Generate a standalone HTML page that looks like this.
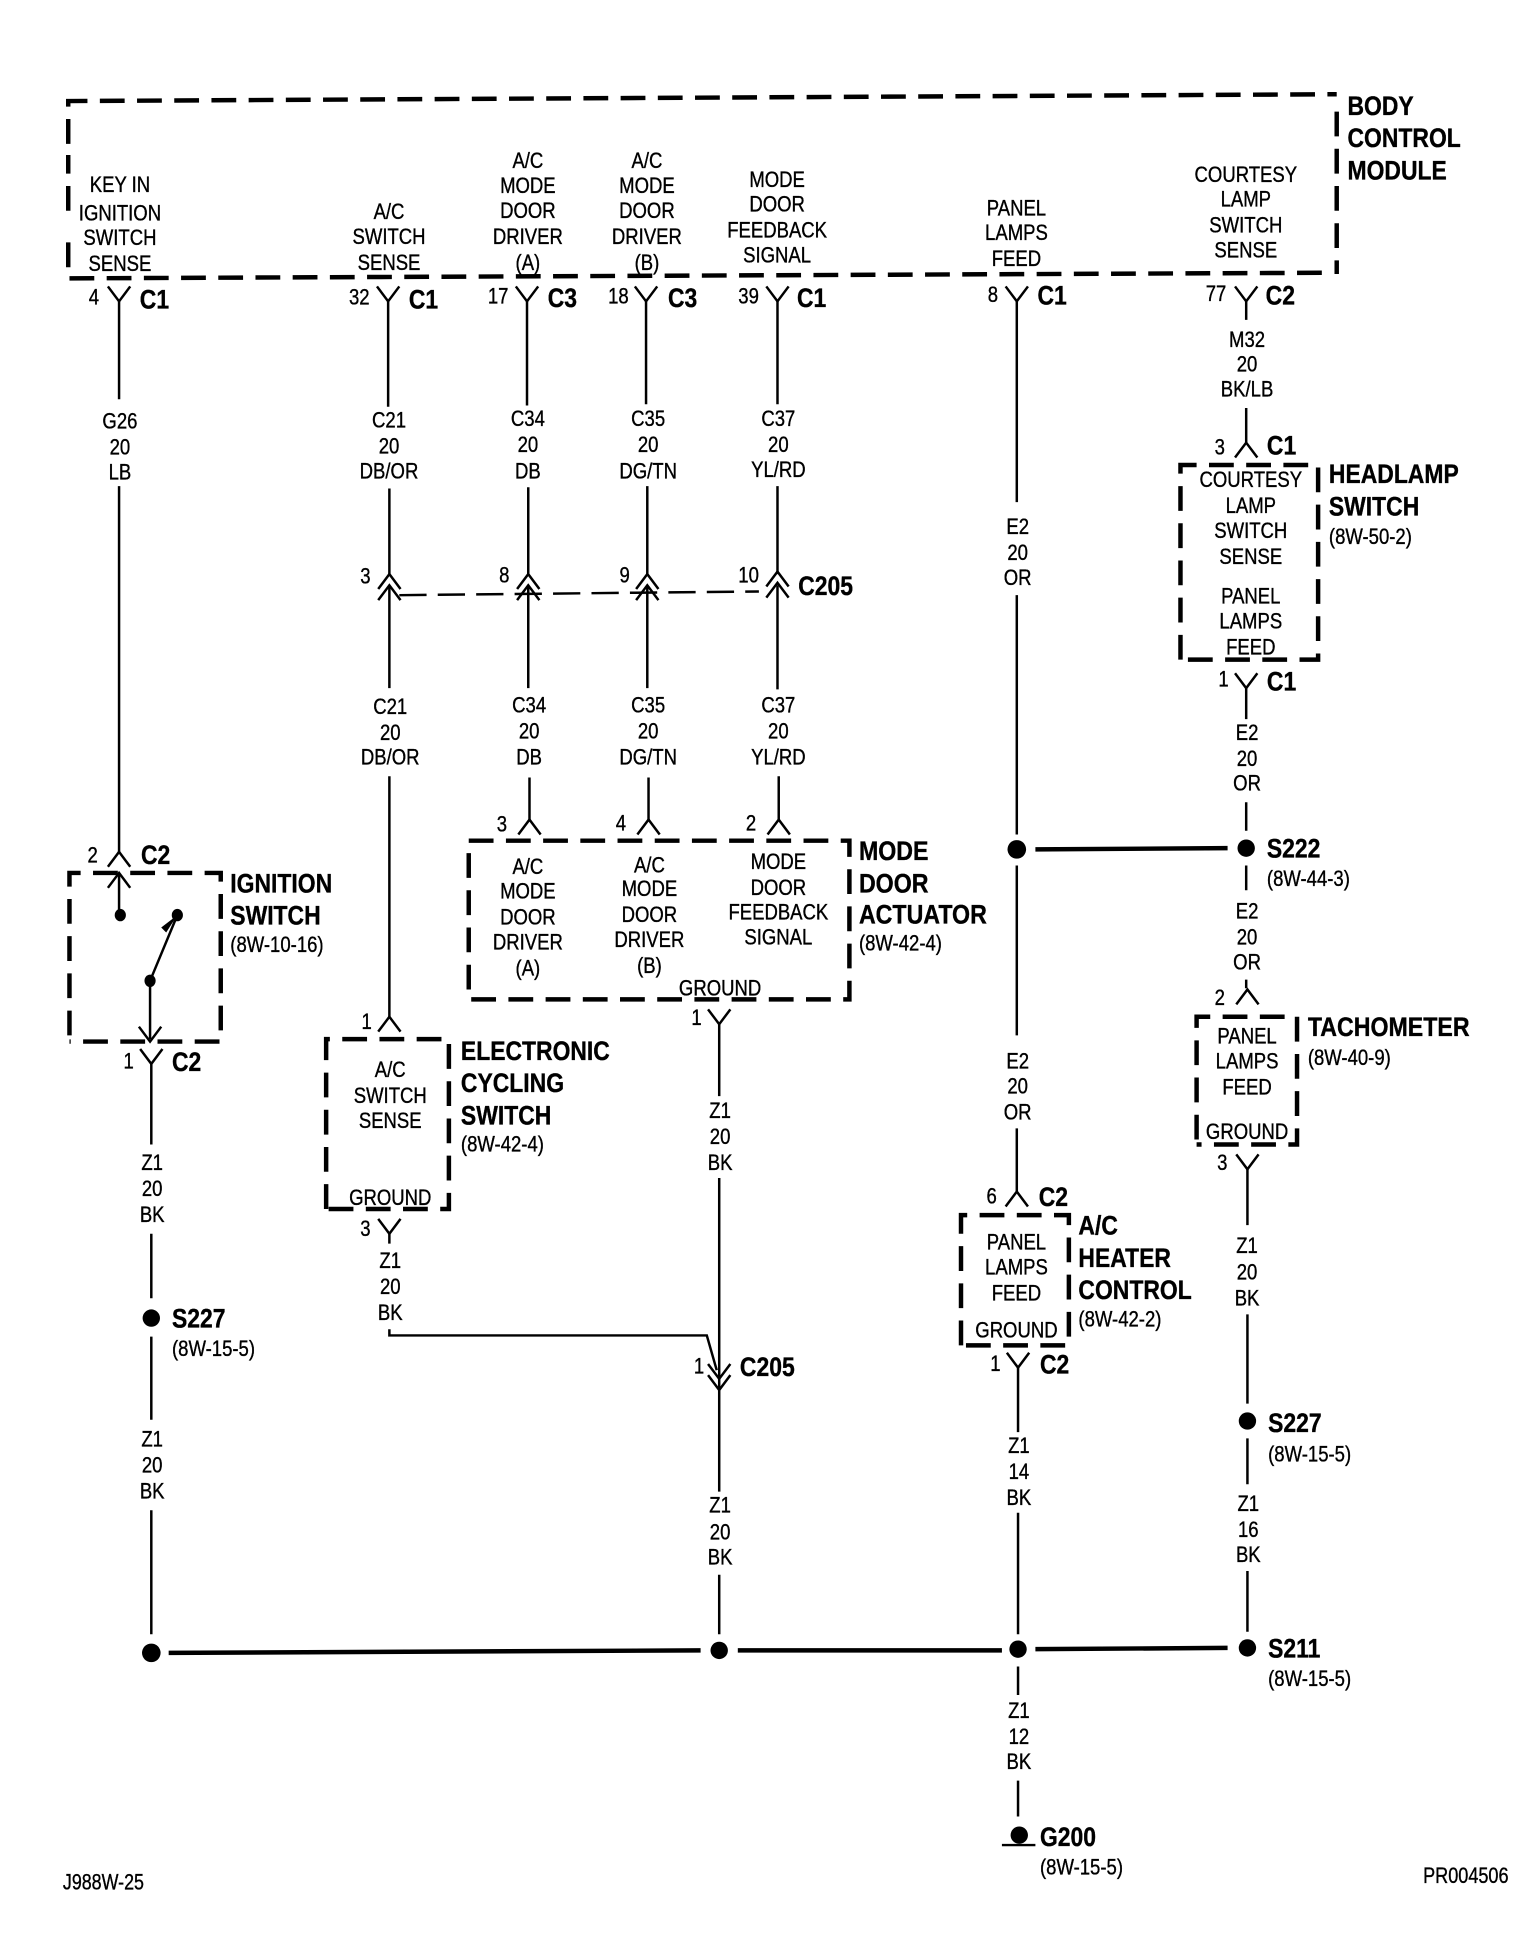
<!DOCTYPE html>
<html><head><meta charset="utf-8"><style>
html,body{margin:0;padding:0;background:#fff;width:1536px;height:1946px;overflow:hidden}
svg{display:block}
text{font-family:"Liberation Sans",sans-serif;fill:#000;stroke:#000;stroke-width:.3}
.c{font-size:18px;text-anchor:middle}
.l{font-size:18px}
.b{font-size:22px;font-weight:bold}
.w{fill:none;stroke:#000;stroke-width:2}
.h{fill:none;stroke:#000;stroke-width:3.6}
.d{fill:none;stroke:#000;stroke-width:3.6;stroke-dasharray:20 10}
.e{fill:none;stroke:#000;stroke-width:2;stroke-dasharray:22 9}
</style></head><body>
<svg xmlns="http://www.w3.org/2000/svg" width="1536" height="1946" viewBox="0 0 1238.7 1569.4">
<defs>
<path id="y" d="M-9,-12L0,0L9,-12" fill="none" stroke="#000" stroke-width="2"/>
<path id="a" d="M-9,12L0,0L9,12" fill="none" stroke="#000" stroke-width="2"/>
</defs>
<rect width="1239" height="1570" fill="#fff"/>

<!-- dashed boxes -->
<path class="d" d="M55,116V81.5L1078,76M1078,90V221M1066,220L55,224.5V190M55,170V125"/>
<path class="d" d="M56,835V704H178V840H56"/>
<path class="d" d="M378,678H685V806H378V678"/>
<path class="d" d="M263,975V838H362V975H263"/>
<path class="d" d="M952,532V375H1063V532H952"/>
<path class="d" d="M965,919V820H1046V923H965"/>
<path class="d" d="M775,1085V980H862V1085H775"/>

<!-- wires -->
<path class="w" d="M96,243V322M96,392V688"/>
<path class="w" d="M96,704V738M143,738L121,791V838M122,858V923M122,995V1047M122,1078V1145M122,1218V1318"/>
<path class="w" d="M313,243V328M314,394V463M314,472V555M314,626V820M314,995V1003M314,1072V1077H570L578,1105"/>
<path class="w" d="M425,243V327M426,393V463M426,472V555M427,627V662"/>
<path class="w" d="M521,243V326M522,392V463M522,472V555M523,627V662"/>
<path class="w" d="M627,243V326M627,392V463M627,472V556M628,626V662"/>
<path class="w" d="M580,826V884M580,950V1120M580,1120V1203M580,1270V1318"/>
<path class="w" d="M820,243V405M820,480V673M820,698V835M820,910V961"/>
<path class="w" d="M821,1103V1155M821,1220V1318M821,1344V1367M821,1436V1465"/>
<path class="w" d="M1005,243V258M1005,329V357M1005,555V580M1005,647V670M1005,698V718M1005,790V797"/>
<path class="w" d="M1006,943V988M1006,1060V1132M1006,1160V1197M1006,1267V1316"/>
<path class="e" d="M322,480L612,477"/>

<!-- thick splice lines -->
<path class="h" d="M136,1333L565,1331M595,1331H808M835,1330L990,1329M835,685L990,684"/>

<!-- dots -->
<g fill="#000">
<ellipse cx="97" cy="738" rx="4.5" ry="5"/><ellipse cx="143" cy="738" rx="4.5" ry="5"/><ellipse cx="121" cy="791" rx="4.5" ry="5"/>
<circle cx="122" cy="1063" r="7"/><circle cx="122" cy="1333" r="7.5"/><circle cx="580" cy="1331" r="7"/>
<circle cx="821" cy="1330" r="7"/><circle cx="1006" cy="1329" r="7"/><circle cx="820" cy="685" r="7.5"/>
<circle cx="1005" cy="684" r="7"/><circle cx="1006" cy="1146" r="7"/>
<path d="M808,1487H835V1489H808Z"/><circle cx="822" cy="1480" r="7"/>
<path d="M143,738L134,752L130,748Z"/>
</g>

<!-- connectors -->
<use href="#y" x="96" y="243"/><use href="#y" x="313" y="243"/><use href="#y" x="425" y="243"/><use href="#y" x="521" y="243"/><use href="#y" x="627" y="243"/><use href="#y" x="820" y="243"/><use href="#y" x="1005" y="243"/>
<use href="#a" x="1005" y="357"/><use href="#y" x="1005" y="555"/><use href="#a" x="1006" y="798"/><use href="#y" x="1006" y="943"/>
<use href="#a" x="96" y="687"/><use href="#a" x="96" y="704"/><use href="#y" x="121" y="840"/><use href="#y" x="122" y="858"/>
<use href="#a" x="314" y="820"/><use href="#y" x="314" y="995"/><use href="#a" x="427" y="661"/><use href="#a" x="523" y="661"/><use href="#a" x="628" y="661"/>
<use href="#y" x="580" y="826"/><use href="#a" x="820" y="961"/><use href="#y" x="821" y="1103"/>
<use href="#a" x="314" y="463"/><use href="#a" x="314" y="472"/><use href="#a" x="426" y="463"/><use href="#a" x="426" y="472"/><use href="#a" x="522" y="463"/><use href="#a" x="522" y="472"/><use href="#a" x="627" y="461"/><use href="#a" x="627" y="470"/>
<use href="#y" x="580" y="1112"/><use href="#y" x="580" y="1121"/>

<g transform="translate(.7,.7)">
<!-- top labels -->
<text class="c" transform="translate(96,0) scale(.83,1)"><tspan x="0" y="154">KEY IN</tspan><tspan x="0" y="177">IGNITION</tspan><tspan x="0" y="197">SWITCH</tspan><tspan x="0" y="218">SENSE</tspan></text>
<text class="c" transform="translate(313,0) scale(.83,1)"><tspan x="0" y="176">A/C</tspan><tspan x="0" y="196">SWITCH</tspan><tspan x="0" y="217">SENSE</tspan></text>
<text class="c" transform="translate(425,0) scale(.83,1)"><tspan x="0" y="135">A/C</tspan><tspan x="0" y="155">MODE</tspan><tspan x="0" y="175">DOOR</tspan><tspan x="0" y="196">DRIVER</tspan><tspan x="0" y="217">(A)</tspan></text>
<text class="c" transform="translate(521,0) scale(.83,1)"><tspan x="0" y="135">A/C</tspan><tspan x="0" y="155">MODE</tspan><tspan x="0" y="175">DOOR</tspan><tspan x="0" y="196">DRIVER</tspan><tspan x="0" y="217">(B)</tspan></text>
<text class="c" transform="translate(626,0) scale(.83,1)"><tspan x="0" y="150">MODE</tspan><tspan x="0" y="170">DOOR</tspan><tspan x="0" y="191">FEEDBACK</tspan><tspan x="0" y="211">SIGNAL</tspan></text>
<text class="c" transform="translate(819,0) scale(.83,1)"><tspan x="0" y="173">PANEL</tspan><tspan x="0" y="193">LAMPS</tspan><tspan x="0" y="214">FEED</tspan></text>
<text class="c" transform="translate(1004,0) scale(.83,1)"><tspan x="0" y="146">COURTESY</tspan><tspan x="0" y="166">LAMP</tspan><tspan x="0" y="187">SWITCH</tspan><tspan x="0" y="207">SENSE</tspan></text>

<!-- wire labels -->
<text class="c" transform="translate(96,0) scale(.83,1)"><tspan x="0" y="345">G26</tspan><tspan x="0" y="366">20</tspan><tspan x="0" y="386">LB</tspan></text>
<text class="c" transform="translate(313,0) scale(.83,1)"><tspan x="0" y="344">C21</tspan><tspan x="0" y="365">20</tspan><tspan x="0" y="385">DB/OR</tspan></text>
<text class="c" transform="translate(425,0) scale(.83,1)"><tspan x="0" y="343">C34</tspan><tspan x="0" y="364">20</tspan><tspan x="0" y="385">DB</tspan></text>
<text class="c" transform="translate(522,0) scale(.83,1)"><tspan x="0" y="343">C35</tspan><tspan x="0" y="364">20</tspan><tspan x="0" y="385">DG/TN</tspan></text>
<text class="c" transform="translate(627,0) scale(.83,1)"><tspan x="0" y="343">C37</tspan><tspan x="0" y="364">20</tspan><tspan x="0" y="384">YL/RD</tspan></text>
<text class="c" transform="translate(314,0) scale(.83,1)"><tspan x="0" y="575">C21</tspan><tspan x="0" y="596">20</tspan><tspan x="0" y="616">DB/OR</tspan></text>
<text class="c" transform="translate(426,0) scale(.83,1)"><tspan x="0" y="574">C34</tspan><tspan x="0" y="595">20</tspan><tspan x="0" y="616">DB</tspan></text>
<text class="c" transform="translate(522,0) scale(.83,1)"><tspan x="0" y="574">C35</tspan><tspan x="0" y="595">20</tspan><tspan x="0" y="616">DG/TN</tspan></text>
<text class="c" transform="translate(627,0) scale(.83,1)"><tspan x="0" y="574">C37</tspan><tspan x="0" y="595">20</tspan><tspan x="0" y="616">YL/RD</tspan></text>
<text class="c" transform="translate(820,0) scale(.83,1)"><tspan x="0" y="430">E2</tspan><tspan x="0" y="451">20</tspan><tspan x="0" y="471">OR</tspan></text>
<text class="c" transform="translate(820,0) scale(.83,1)"><tspan x="0" y="861">E2</tspan><tspan x="0" y="881">20</tspan><tspan x="0" y="902">OR</tspan></text>
<text class="c" transform="translate(1005,0) scale(.83,1)"><tspan x="0" y="279">M32</tspan><tspan x="0" y="299">20</tspan><tspan x="0" y="319">BK/LB</tspan></text>
<text class="c" transform="translate(1005,0) scale(.83,1)"><tspan x="0" y="596">E2</tspan><tspan x="0" y="617">20</tspan><tspan x="0" y="637">OR</tspan></text>
<text class="c" transform="translate(1005,0) scale(.83,1)"><tspan x="0" y="740">E2</tspan><tspan x="0" y="761">20</tspan><tspan x="0" y="781">OR</tspan></text>
<text class="c" transform="translate(122,0) scale(.83,1)"><tspan x="0" y="943">Z1</tspan><tspan x="0" y="964">20</tspan><tspan x="0" y="985">BK</tspan></text>
<text class="c" transform="translate(122,0) scale(.83,1)"><tspan x="0" y="1166">Z1</tspan><tspan x="0" y="1187">20</tspan><tspan x="0" y="1208">BK</tspan></text>
<text class="c" transform="translate(314,0) scale(.83,1)"><tspan x="0" y="1022">Z1</tspan><tspan x="0" y="1043">20</tspan><tspan x="0" y="1064">BK</tspan></text>
<text class="c" transform="translate(580,0) scale(.83,1)"><tspan x="0" y="901">Z1</tspan><tspan x="0" y="922">20</tspan><tspan x="0" y="943">BK</tspan></text>
<text class="c" transform="translate(580,0) scale(.83,1)"><tspan x="0" y="1219">Z1</tspan><tspan x="0" y="1241">20</tspan><tspan x="0" y="1261">BK</tspan></text>
<text class="c" transform="translate(821,0) scale(.83,1)"><tspan x="0" y="1171">Z1</tspan><tspan x="0" y="1192">14</tspan><tspan x="0" y="1213">BK</tspan></text>
<text class="c" transform="translate(821,0) scale(.83,1)"><tspan x="0" y="1385">Z1</tspan><tspan x="0" y="1406">12</tspan><tspan x="0" y="1426">BK</tspan></text>
<text class="c" transform="translate(1005,0) scale(.83,1)"><tspan x="0" y="1010">Z1</tspan><tspan x="0" y="1031">20</tspan><tspan x="0" y="1052">BK</tspan></text>
<text class="c" transform="translate(1006,0) scale(.83,1)"><tspan x="0" y="1218">Z1</tspan><tspan x="0" y="1239">16</tspan><tspan x="0" y="1259">BK</tspan></text>

<!-- box contents -->
<text class="c" transform="translate(1008,0) scale(.83,1)"><tspan x="0" y="392">COURTESY</tspan><tspan x="0" y="413">LAMP</tspan><tspan x="0" y="433">SWITCH</tspan><tspan x="0" y="454">SENSE</tspan><tspan x="0" y="486">PANEL</tspan><tspan x="0" y="506">LAMPS</tspan><tspan x="0" y="527">FEED</tspan></text>
<text class="c" transform="translate(425,0) scale(.83,1)"><tspan x="0" y="704">A/C</tspan><tspan x="0" y="724">MODE</tspan><tspan x="0" y="745">DOOR</tspan><tspan x="0" y="765">DRIVER</tspan><tspan x="0" y="786">(A)</tspan></text>
<text class="c" transform="translate(523,0) scale(.83,1)"><tspan x="0" y="703">A/C</tspan><tspan x="0" y="722">MODE</tspan><tspan x="0" y="743">DOOR</tspan><tspan x="0" y="763">DRIVER</tspan><tspan x="0" y="784">(B)</tspan></text>
<text class="c" transform="translate(627,0) scale(.83,1)"><tspan x="0" y="700">MODE</tspan><tspan x="0" y="721">DOOR</tspan><tspan x="0" y="741">FEEDBACK</tspan><tspan x="0" y="761">SIGNAL</tspan></text>
<text class="c" transform="translate(580,0) scale(.83,1)"><tspan x="0" y="802">GROUND</tspan></text>
<text class="c" transform="translate(314,0) scale(.83,1)"><tspan x="0" y="868">A/C</tspan><tspan x="0" y="889">SWITCH</tspan><tspan x="0" y="909">SENSE</tspan><tspan x="0" y="971">GROUND</tspan></text>
<text class="c" transform="translate(1005,0) scale(.83,1)"><tspan x="0" y="841">PANEL</tspan><tspan x="0" y="861">LAMPS</tspan><tspan x="0" y="882">FEED</tspan><tspan x="0" y="918">GROUND</tspan></text>
<text class="c" transform="translate(819,0) scale(.83,1)"><tspan x="0" y="1007">PANEL</tspan><tspan x="0" y="1027">LAMPS</tspan><tspan x="0" y="1048">FEED</tspan><tspan x="0" y="1078">GROUND</tspan></text>

<!-- pin numbers -->
<text class="c" transform="translate(75,245) scale(.83,1)">4</text>
<text class="c" transform="translate(289,245) scale(.83,1)">32</text>
<text class="c" transform="translate(401,244) scale(.83,1)">17</text>
<text class="c" transform="translate(498,244) scale(.83,1)">18</text>
<text class="c" transform="translate(603,244) scale(.83,1)">39</text>
<text class="c" transform="translate(800,243) scale(.83,1)">8</text>
<text class="c" transform="translate(980,242) scale(.83,1)">77</text>
<text class="c" transform="translate(983,366) scale(.83,1)">3</text>
<text class="c" transform="translate(986,553) scale(.83,1)">1</text>
<text class="c" transform="translate(294,470) scale(.83,1)">3</text>
<text class="c" transform="translate(406,469) scale(.83,1)">8</text>
<text class="c" transform="translate(503,469) scale(.83,1)">9</text>
<text class="c" transform="translate(603,469) scale(.83,1)">10</text>
<text class="c" transform="translate(74,695) scale(.83,1)">2</text>
<text class="c" transform="translate(103,861) scale(.83,1)">1</text>
<text class="c" transform="translate(404,670) scale(.83,1)">3</text>
<text class="c" transform="translate(500,669) scale(.83,1)">4</text>
<text class="c" transform="translate(605,669) scale(.83,1)">2</text>
<text class="c" transform="translate(295,829) scale(.83,1)">1</text>
<text class="c" transform="translate(294,996) scale(.83,1)">3</text>
<text class="c" transform="translate(561,826) scale(.83,1)">1</text>
<text class="c" transform="translate(563,1107) scale(.83,1)">1</text>
<text class="c" transform="translate(799,970) scale(.83,1)">6</text>
<text class="c" transform="translate(802,1105) scale(.83,1)">1</text>
<text class="c" transform="translate(983,810) scale(.83,1)">2</text>
<text class="c" transform="translate(985,943) scale(.83,1)">3</text>

<!-- connector IDs -->
<text class="b" transform="translate(112,248) scale(.84,1)">C1</text>
<text class="b" transform="translate(329,248) scale(.84,1)">C1</text>
<text class="b" transform="translate(441,247) scale(.84,1)">C3</text>
<text class="b" transform="translate(538,247) scale(.84,1)">C3</text>
<text class="b" transform="translate(642,247) scale(.84,1)">C1</text>
<text class="b" transform="translate(836,245) scale(.84,1)">C1</text>
<text class="b" transform="translate(1020,245) scale(.84,1)">C2</text>
<text class="b" transform="translate(1021,366) scale(.84,1)">C1</text>
<text class="b" transform="translate(1021,556) scale(.84,1)">C1</text>
<text class="b" transform="translate(643,479) scale(.84,1)">C205</text>
<text class="b" transform="translate(113,696) scale(.84,1)">C2</text>
<text class="b" transform="translate(138,863) scale(.84,1)">C2</text>
<text class="b" transform="translate(596,1109) scale(.84,1)">C205</text>
<text class="b" transform="translate(837,972) scale(.84,1)">C2</text>
<text class="b" transform="translate(838,1107) scale(.84,1)">C2</text>

<!-- component names -->
<text class="b" transform="translate(1086,0) scale(.84,1)"><tspan x="0" y="92">BODY</tspan><tspan x="0" y="118">CONTROL</tspan><tspan x="0" y="144">MODULE</tspan></text>
<text class="b" transform="translate(1071,0) scale(.84,1)"><tspan x="0" y="389">HEADLAMP</tspan><tspan x="0" y="415">SWITCH</tspan></text>
<text class="l" transform="translate(1071,438) scale(.83,1)">(8W-50-2)</text>
<text class="b" transform="translate(185,0) scale(.84,1)"><tspan x="0" y="719">IGNITION</tspan><tspan x="0" y="745">SWITCH</tspan></text>
<text class="l" transform="translate(185,767) scale(.83,1)">(8W-10-16)</text>
<text class="b" transform="translate(692,0) scale(.85,1)"><tspan x="0" y="693">MODE</tspan><tspan x="0" y="719">DOOR</tspan><tspan x="0" y="744">ACTUATOR</tspan></text>
<text class="l" transform="translate(692,766) scale(.83,1)">(8W-42-4)</text>
<text class="b" transform="translate(371,0) scale(.84,1)"><tspan x="0" y="854">ELECTRONIC</tspan><tspan x="0" y="880">CYCLING</tspan><tspan x="0" y="906">SWITCH</tspan></text>
<text class="l" transform="translate(371,928) scale(.83,1)">(8W-42-4)</text>
<text class="b" transform="translate(869,0) scale(.84,1)"><tspan x="0" y="995">A/C</tspan><tspan x="0" y="1021">HEATER</tspan><tspan x="0" y="1047">CONTROL</tspan></text>
<text class="l" transform="translate(869,1069) scale(.83,1)">(8W-42-2)</text>
<text class="b" transform="translate(1054,0) scale(.85,1)"><tspan x="0" y="835">TACHOMETER</tspan></text>
<text class="l" transform="translate(1054,858) scale(.83,1)">(8W-40-9)</text>
<text class="b" transform="translate(1021,691) scale(.84,1)">S222</text>
<text class="l" transform="translate(1021,714) scale(.83,1)">(8W-44-3)</text>
<text class="b" transform="translate(138,1070) scale(.84,1)">S227</text>
<text class="l" transform="translate(138,1093) scale(.83,1)">(8W-15-5)</text>
<text class="b" transform="translate(1022,1154) scale(.84,1)">S227</text>
<text class="l" transform="translate(1022,1178) scale(.83,1)">(8W-15-5)</text>
<text class="b" transform="translate(1022,1336) scale(.84,1)">S211</text>
<text class="l" transform="translate(1022,1359) scale(.83,1)">(8W-15-5)</text>
<text class="b" transform="translate(838,1488) scale(.84,1)">G200</text>
<text class="l" transform="translate(838,1511) scale(.83,1)">(8W-15-5)</text>

<text class="l" transform="translate(50,1523) scale(.8,1)">J988W-25</text>
<text class="l" transform="translate(1147,1518) scale(.81,1)">PR004506</text>
</g>
</svg>
</body></html>
